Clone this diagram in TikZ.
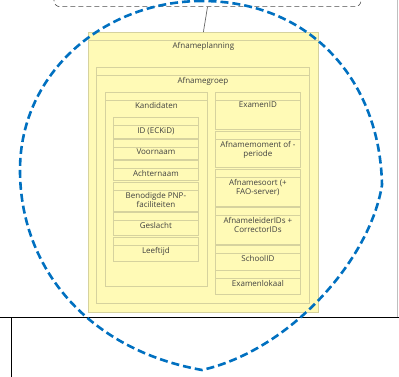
\documentclass[tikz,border=0pt]{standalone}
\usepackage{fontspec}
\setmainfont{Open Sans}
\usetikzlibrary{positioning}
\definecolor{boxfill}{RGB}{255,250,182}
\definecolor{boxline}{RGB}{214,210,158}
\definecolor{blobblue}{RGB}{0,112,192}
\definecolor{txtgray}{RGB}{64,64,64}

\begin{document}
\begin{tikzpicture}[x=1pt, y=-1pt,
  box/.style={draw=boxline, fill=boxfill, line width=0.8pt, anchor=north west, inner sep=0pt,
    path picture={\draw[boxline, line width=0.8pt] ([yshift=-8pt]path picture bounding box.north west) -- ([yshift=-8pt]path picture bounding box.north east);}},
  txt/.style={anchor=north, inner sep=0pt, align=center, text=txtgray, font=\fontsize{8}{9}\selectfont},
  upper/.style={draw=black!70, dashed, dash pattern=on 5pt off 3pt, rounded corners=6pt, line width=0.6pt, inner sep=0pt},
  conn/.style={draw=black!60, line width=0.7pt},
  blob/.style={draw=blobblue, line width=2.6pt, dash pattern=on 8pt off 4pt}]
  \clip (0,0) rectangle (399,377);

  % Page edges
  \draw[line width=0.8pt, black!25] (397,0) -- (397,317.5);
  \draw[line width=1.5pt] (0,317.5) -- (399,317.5);
  \draw[line width=1pt] (11,317.5) -- (11,377);

  % Upper group
  \node[upper, minimum width=307pt, minimum height=40pt, anchor=south] (bovengroep) at (207.5,7) {};

  % Outer boxes
  \node[box, minimum width=230pt, minimum height=280pt] (planning) at (88,32) {};
  \node[txt, below=10pt of planning.north] (planning-t) {Afnameplanning};
  \node[box, minimum width=213pt, minimum height=236pt] (groep) at (96,67) {};
  \node[txt, below=10pt of groep.north] (groep-t) {Afnamegroep};

  % Kandidaten
  \node[box, minimum width=102pt, minimum height=194pt] (kandidaten) at (105,92) {};
  \node[txt, below=10pt of kandidaten.north] (kandidaten-t) {Kandidaten};
  \node[box, minimum width=85pt, minimum height=21pt] (eckid) at (113,117) {};
  \node[txt, below=10pt of eckid.north] (eckid-t) {ID (ECKiD)};
  \node[box, minimum width=85pt, minimum height=20pt] (voornaam) at (113,139) {};
  \node[txt, below=10pt of voornaam.north] (voornaam-t) {Voornaam};
  \node[box, minimum width=85pt, minimum height=20pt] (achternaam) at (113,160) {};
  \node[txt, below=10pt of achternaam.north] (achternaam-t) {Achternaam};
  \node[box, minimum width=85pt, minimum height=29pt] (pnp) at (113,182) {};
  \node[txt, below=10pt of pnp.north] (pnp-t) {Benodigde PNP-\\faciliteiten};
  \node[box, minimum width=85pt, minimum height=23pt] (geslacht) at (113,212) {};
  \node[txt, below=10pt of geslacht.north] (geslacht-t) {Geslacht};
  \node[box, minimum width=85pt, minimum height=24pt] (leeftijd) at (113,237) {};
  \node[txt, below=10pt of leeftijd.north] (leeftijd-t) {Leeftijd};

  % Examen column
  \node[box, minimum width=85pt, minimum height=37pt] (examenid) at (215,92) {};
  \node[txt, below=10pt of examenid.north] (examenid-t) {ExamenID};
  \node[box, minimum width=85pt, minimum height=36pt] (moment) at (215,131) {};
  \node[txt, below=10pt of moment.north] (moment-t) {Afnamemoment of -\\periode};
  \node[box, minimum width=85pt, minimum height=37pt] (soort) at (215,169) {};
  \node[txt, below=10pt of soort.north] (soort-t) {Afnamesoort (+\\FAO-server)};
  \node[box, minimum width=85pt, minimum height=37pt] (leiders) at (215,207) {};
  \node[txt, below=10pt of leiders.north] (leiders-t) {AfnameleiderIDs +\\CorrectorIDs};
  \node[box, minimum width=85pt, minimum height=25pt] (schoolid) at (215,245) {};
  \node[txt, below=10pt of schoolid.north] (schoolid-t) {SchoolID};
  \node[box, minimum width=85pt, minimum height=24pt] (lokaal) at (215,270) {};
  \node[txt, below=10pt of lokaal.north] (lokaal-t) {Examenlokaal};

  % Link
  \draw[conn] (bovengroep.south) -- (planning.north);

  % Dashed outline
  \draw[blob] (202,1) .. controls (105,1) and (20,72) .. (20,170)
    .. controls (20,270) and (90,350) .. (202,370)
    .. controls (290,350) and (370,260) .. (382,185)
    .. controls (380,80) and (310,1) .. cycle;
\end{tikzpicture}
\end{document}
